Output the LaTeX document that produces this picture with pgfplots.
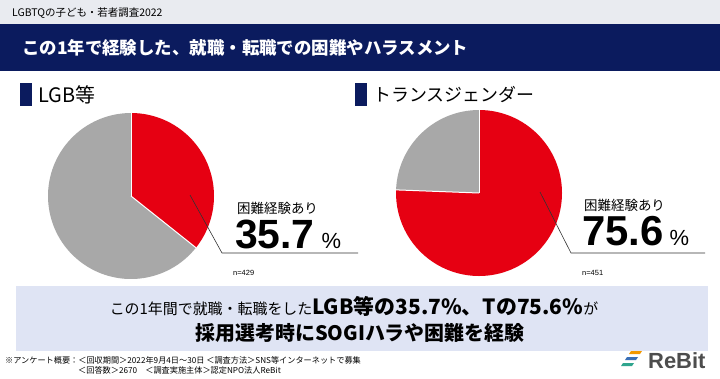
\documentclass[border=0pt]{standalone}
\usepackage{pgfplots}
\pgfplotsset{compat=1.18}
\usepackage{pgfplotstable}
\usepackage{fontspec}
\setmainfont{Noto Sans CJK JP}
\newfontfamily\lib{Liberation Sans}
\definecolor{navy}{HTML}{0B1B5E}
\definecolor{pred}{HTML}{E60012}
\definecolor{pgray}{HTML}{A8A8A8}
\definecolor{strip}{HTML}{E9EBF0}
\definecolor{boxbg}{HTML}{DFE4F4}
\definecolor{logogray}{HTML}{4D4D4D}
\definecolor{lorange}{HTML}{F39800}
\definecolor{lblue}{HTML}{3A6FB6}
\definecolor{lteal}{HTML}{2FA58E}

\pgfplotstableread{
group value cx cy
LGB 35.7 131 196
T 75.6 479 193
}\pies

\begin{document}
\begin{tikzpicture}
\pgfplotstablegetelem{0}{value}\of\pies \edef\va{\pgfplotsretval}
\pgfplotstablegetelem{1}{value}\of\pies \edef\vb{\pgfplotsretval}
\pgfmathsetmacro\ea{90-3.6*\va}
\pgfmathsetmacro\eb{90-3.6*\vb}
\begin{axis}[x=1bp,y=1bp,xmin=0,xmax=720,ymin=0,ymax=378,y dir=reverse,
  hide axis,clip=false,scale only axis]
\fill[white] (axis cs:0,0) rectangle (axis cs:720,378);
\fill[strip] (axis cs:0,0) rectangle (axis cs:720,24);
\fill[navy] (axis cs:0,24) rectangle (axis cs:720,71);
\node[anchor=west,inner sep=0pt,font=\fontsize{10.5}{12}\selectfont] at (axis cs:12,13) {LGBTQの子ども・若者調査2022};
\node[anchor=west,inner sep=0pt,text=white,font=\fontsize{17.5}{20}\selectfont\bfseries] at (axis cs:22,48) {この1年で経験した、就職・転職での困難やハラスメント};
% headers
\fill[navy] (axis cs:20,83) rectangle (axis cs:32,106);
\node[anchor=west,inner sep=0pt,font=\fontsize{20}{22}\selectfont] at (axis cs:38,95) {LGB等};
\fill[navy] (axis cs:355,83) rectangle (axis cs:367,106);
\node[anchor=west,inner sep=0pt,font=\fontsize{18}{20}\selectfont] at (axis cs:373,95) {トランスジェンダー};
% pies
\fill[pred] (axis cs:131,196) -- ++(90:83bp) arc[start angle=90,end angle=\ea,radius=83bp] -- cycle;
\fill[pgray] (axis cs:131,196) -- ++(\ea:83bp) arc[start angle=\ea,end angle=-270,radius=83bp] -- cycle;
\draw[white,line width=1bp] (axis cs:131,196) -- ++(90:83bp);
\draw[white,line width=1bp] (axis cs:131,196) -- ++(\ea:83bp);
\fill[pred] (axis cs:479,193) -- ++(90:83bp) arc[start angle=90,end angle=\eb,radius=83bp] -- cycle;
\fill[pgray] (axis cs:479,193) -- ++(\eb:83bp) arc[start angle=\eb,end angle=-270,radius=83bp] -- cycle;
\draw[white,line width=1bp] (axis cs:479,193) -- ++(90:83bp);
\draw[white,line width=1bp] (axis cs:479,193) -- ++(\eb:83bp);
% leaders
\draw[black!80,line width=0.6bp] (axis cs:190,195) -- (axis cs:222,253) -- (axis cs:358,253);
\draw[black!80,line width=0.6bp] (axis cs:540,192) -- (axis cs:571,253) -- (axis cs:705,253);
% labels
\node[anchor=base west,inner sep=0pt,font=\fontsize{13.5}{15}\selectfont] at (axis cs:237,213) {困難経験あり};
\node[anchor=base west,inner sep=0pt] at (axis cs:235,248) {{\fontsize{41}{41}\selectfont\lib\bfseries 35.7}\hspace{7bp}{\fontsize{22}{22}\selectfont\lib\%}};
\node[anchor=base west,inner sep=0pt,font=\fontsize{7.5}{8}\selectfont\lib] at (axis cs:233,275) {n=429};
\node[anchor=base west,inner sep=0pt,font=\fontsize{13.5}{15}\selectfont] at (axis cs:584,210) {困難経験あり};
\node[anchor=base west,inner sep=0pt] at (axis cs:582,245) {{\fontsize{42}{42}\selectfont\lib\bfseries 75.6}\hspace{6bp}{\fontsize{22}{22}\selectfont\lib\%}};
\node[anchor=base west,inner sep=0pt,font=\fontsize{7.5}{8}\selectfont\lib] at (axis cs:582,275) {n=451};
% summary box
\fill[boxbg] (axis cs:16,286) rectangle (axis cs:708,351);
\node[anchor=base,inner sep=0pt] at (axis cs:354,314) {{\fontsize{15}{15}\selectfont この1年間で就職・転職をした}{\fontsize{21}{21}\selectfont\bfseries LGB等の35.7\%、Tの75.6\%}{\fontsize{15}{15}\selectfont が}};
\node[anchor=base,inner sep=0pt,font=\fontsize{20}{20}\selectfont\bfseries] at (axis cs:360,340) {採用選考時にSOGIハラや困難を経験};
% footnote
\node[anchor=base west,inner sep=0pt,font=\fontsize{8.2}{9}\selectfont] at (axis cs:5,363) {※アンケート概要：＜回収期間＞2022年9月4日～30日 ＜調査方法＞SNS等インターネットで募集};
\node[anchor=base west,inner sep=0pt,font=\fontsize{8.2}{9}\selectfont] at (axis cs:78,373) {＜回答数＞2670　＜調査実施主体＞認定NPO法人ReBit};
% logo
\fill[lorange] (axis cs:631,351) -- (axis cs:642,351) -- (axis cs:640,354) -- (axis cs:629,354) -- cycle;
\fill[lblue] (axis cs:627,357) -- (axis cs:638,357) -- (axis cs:636,360) -- (axis cs:625,360) -- cycle;
\fill[lteal] (axis cs:623,363) -- (axis cs:634,363) -- (axis cs:632,366) -- (axis cs:621,366) -- cycle;
\node[anchor=west,inner sep=0pt,text=logogray,font=\fontsize{22}{22}\selectfont\lib\bfseries] at (axis cs:648,361) {ReBit};
\end{axis}
\end{tikzpicture}
\end{document}
